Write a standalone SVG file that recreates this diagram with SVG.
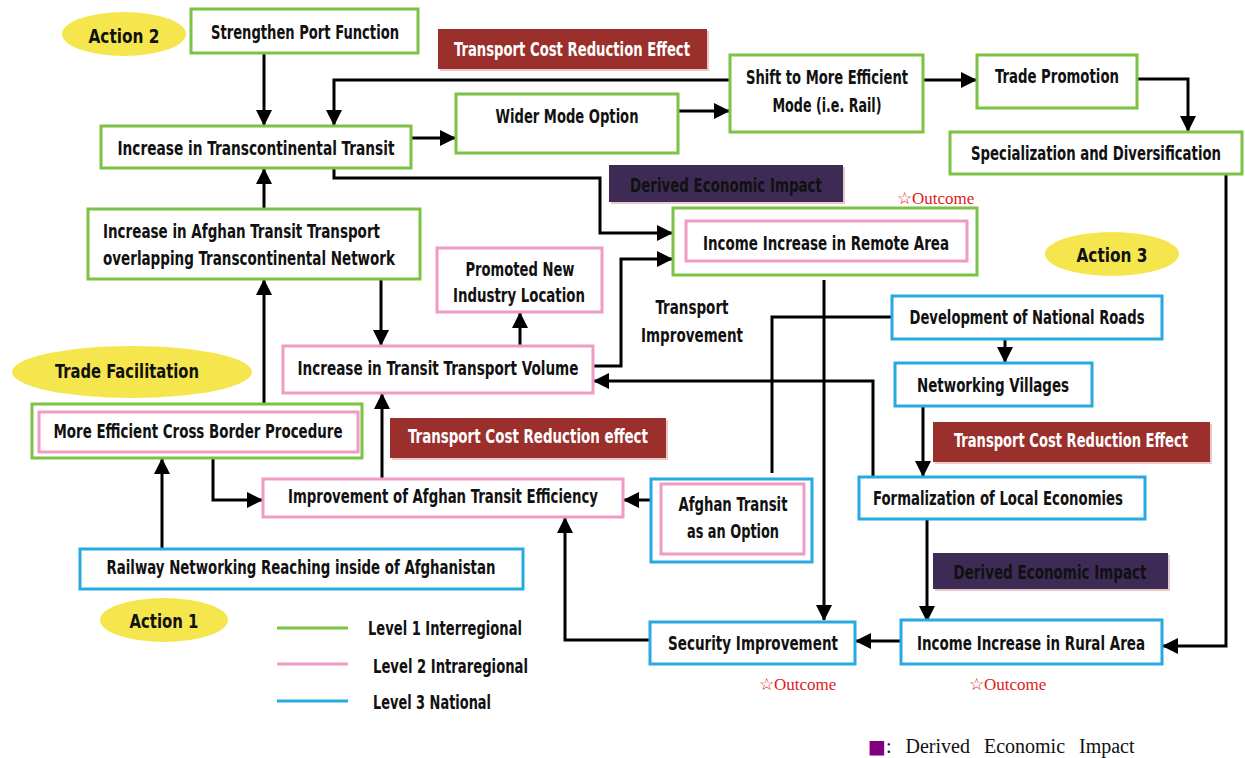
<svg xmlns="http://www.w3.org/2000/svg" width="1245" height="758" viewBox="0 0 1245 758">
<defs>
<style>
.t{font-family:"Liberation Sans Narrow","DejaVu Sans Condensed","Liberation Sans",sans-serif;font-weight:bold;font-size:19px;fill:#111;text-anchor:middle}
.tl{text-anchor:start}
.w{fill:#fff}
.g{fill:#fff;stroke:#7cc243;stroke-width:3}
.p{fill:#fff;stroke:#f09bc3;stroke-width:3}
.b{fill:#fff;stroke:#27aae1;stroke-width:3}
.y{fill:#f6e64e}
.red{fill:#9b2f2b}
.pur{fill:#3e2b55}
.sh{fill:#e8c8c8}
.oc{font-family:"Liberation Serif","DejaVu Serif",serif;font-size:17px;fill:#e02020}
.c{fill:none;stroke:#000;stroke-width:3}
.a{marker-end:url(#ah)}
</style>
<marker id="ah" markerUnits="userSpaceOnUse" markerWidth="16" markerHeight="16" refX="15" refY="8" orient="auto" viewBox="0 0 16 16">
<path d="M0,0 L16,8 L0,16 z" fill="#000"/>
</marker>
</defs>
<rect width="1245" height="758" fill="#fff"/>

<!-- connectors -->
<g id="connectors">
<path class="c a" d="M264,53 V125"/>
<path class="c a" d="M730,80 H334 V125"/>
<path class="c a" d="M411,138 H455"/>
<path class="c a" d="M678,111 H729"/>
<path class="c a" d="M923,80 H976"/>
<path class="c a" d="M1137,79 H1188 V131"/>
<path class="c a" d="M334,168 V178 H600 V233 H672"/>
<path class="c a" d="M593,366 H621 V259 H672"/>
<path class="c a" d="M264,209 V169"/>
<path class="c a" d="M381,279 V345"/>
<path class="c a" d="M520,346 V313"/>
<path class="c a" d="M264,404 V280"/>
<path class="c a" d="M162,549 V459"/>
<path class="c a" d="M213,458 V500 H262"/>
<path class="c a" d="M382,479 V394"/>
<path class="c a" d="M651,500 H624"/>
<path class="c" d="M772,473 V317 H892"/>
<path class="c a" d="M873,477 V381 H594"/>
<path class="c a" d="M1005,339 V362"/>
<path class="c a" d="M923,406 V476"/>
<path class="c a" d="M927,519 V621"/>
<path class="c a" d="M1226,174 V646 H1163"/>
<path class="c a" d="M901,641 H856"/>
<path class="c a" d="M824,280 V620"/>
<path class="c a" d="M650,640 H565 V518"/>
</g>

<!-- actions -->
<g id="action2"><ellipse class="y" cx="124" cy="34" rx="62" ry="22"/><text class="t" x="124" y="43" font-size="21" textLength="71" lengthAdjust="spacingAndGlyphs">Action 2</text></g>
<g id="action3"><ellipse class="y" cx="1112" cy="254" rx="67" ry="22"/><text class="t" x="1112" y="262" font-size="21" textLength="71" lengthAdjust="spacingAndGlyphs">Action 3</text></g>
<g id="action1"><ellipse class="y" cx="164" cy="620" rx="64" ry="22"/><text class="t" x="164" y="628" font-size="21" textLength="69" lengthAdjust="spacingAndGlyphs">Action 1</text></g>
<g id="tradefac"><ellipse class="y" cx="132" cy="372" rx="120" ry="26"/><text class="t" x="127" y="378" font-size="21" textLength="144" lengthAdjust="spacingAndGlyphs">Trade Facilitation</text></g>

<!-- banners -->
<g id="banner-tcr1"><rect class="sh" x="440" y="31" width="269" height="40"/><rect class="red" x="438" y="29" width="269" height="40"/><text class="t w" x="572" y="56" textLength="236" lengthAdjust="spacingAndGlyphs">Transport Cost Reduction Effect</text></g>
<g id="banner-dei1"><rect class="sh" x="611" y="167" width="234" height="37"/><rect class="pur" x="609" y="165" width="234" height="37"/><text class="t" x="726" y="192" textLength="192" lengthAdjust="spacingAndGlyphs">Derived Economic Impact</text></g>
<g id="banner-tcr2"><rect class="sh" x="392" y="420" width="276" height="40"/><rect class="red" x="390" y="418" width="276" height="40"/><text class="t w" x="528" y="443" textLength="240" lengthAdjust="spacingAndGlyphs">Transport Cost Reduction effect</text></g>
<g id="banner-tcr3"><rect class="sh" x="935" y="424" width="277" height="40"/><rect class="red" x="933" y="422" width="277" height="40"/><text class="t w" x="1071" y="447" font-size="17.5" textLength="234" lengthAdjust="spacingAndGlyphs">Transport Cost Reduction Effect</text></g>
<g id="banner-dei2"><rect class="sh" x="935" y="555" width="235" height="36"/><rect class="pur" x="933" y="553" width="235" height="36"/><text class="t" x="1050" y="579" textLength="193" lengthAdjust="spacingAndGlyphs">Derived Economic Impact</text></g>

<!-- nodes -->
<g id="n-port"><rect class="g" x="191" y="9" width="227" height="44"/><text class="t" x="305" y="39" textLength="188" lengthAdjust="spacingAndGlyphs">Strengthen Port Function</text></g>
<g id="n-transcont"><rect class="g" x="101" y="126" width="310" height="42"/><text class="t" x="256" y="155" textLength="277" lengthAdjust="spacingAndGlyphs">Increase in Transcontinental Transit</text></g>
<g id="n-wider"><rect class="g" x="456" y="94" width="222" height="59"/><text class="t" x="567" y="123" textLength="143" lengthAdjust="spacingAndGlyphs">Wider Mode Option</text></g>
<g id="n-shift"><rect class="g" x="730" y="55" width="193" height="77"/><text class="t" x="827" y="84" textLength="162" lengthAdjust="spacingAndGlyphs">Shift to More Efficient</text><text class="t" x="827" y="112" textLength="109" lengthAdjust="spacingAndGlyphs">Mode (i.e. Rail)</text></g>
<g id="n-trade"><rect class="g" x="977" y="55" width="160" height="53"/><text class="t" x="1057" y="83" textLength="124" lengthAdjust="spacingAndGlyphs">Trade Promotion</text></g>
<g id="n-spec"><rect class="g" x="950" y="132" width="292" height="42"/><text class="t" x="1096" y="160" font-size="17.5" textLength="250" lengthAdjust="spacingAndGlyphs">Specialization and Diversification</text></g>
<g id="n-remote"><rect class="g" x="673" y="208" width="304" height="67"/><rect class="p" x="686" y="221" width="281" height="40"/><text class="t" x="826" y="250" textLength="246" lengthAdjust="spacingAndGlyphs">Income Increase in Remote Area</text><text class="oc" x="897" y="204">☆Outcome</text></g>
<g id="n-afghan-overlap"><rect class="g" x="88" y="209" width="332" height="70"/><text class="t tl" x="103" y="238" textLength="277" lengthAdjust="spacingAndGlyphs">Increase in Afghan Transit Transport</text><text class="t tl" x="103" y="265" textLength="292" lengthAdjust="spacingAndGlyphs">overlapping Transcontinental Network</text></g>
<g id="n-promoted"><rect class="p" x="437" y="248" width="165" height="64"/><text class="t" x="520" y="276" textLength="109" lengthAdjust="spacingAndGlyphs">Promoted New</text><text class="t" x="519" y="302" textLength="132" lengthAdjust="spacingAndGlyphs">Industry Location</text></g>
<g id="lbl-transport-improvement"><text class="t" x="692" y="314" textLength="73" lengthAdjust="spacingAndGlyphs">Transport</text><text class="t" x="692" y="342" textLength="102" lengthAdjust="spacingAndGlyphs">Improvement</text></g>
<g id="n-volume"><rect class="p" x="283" y="346" width="310" height="47"/><text class="t" x="438" y="375" textLength="281" lengthAdjust="spacingAndGlyphs">Increase in Transit Transport Volume</text></g>
<g id="n-crossborder"><rect class="g" x="32" y="404" width="330" height="54"/><rect class="p" x="39" y="412" width="319" height="40"/><text class="t" x="198" y="438" textLength="289" lengthAdjust="spacingAndGlyphs">More Efficient Cross Border Procedure</text></g>
<g id="n-improvement"><rect class="p" x="263" y="479" width="360" height="38"/><text class="t" x="443" y="503" textLength="310" lengthAdjust="spacingAndGlyphs">Improvement of Afghan Transit Efficiency</text></g>
<g id="n-option"><rect class="b" x="651" y="479" width="161" height="83"/><rect class="p" x="661" y="484" width="143" height="70"/><text class="t" x="733" y="511" textLength="109" lengthAdjust="spacingAndGlyphs">Afghan Transit</text><text class="t" x="733" y="538" textLength="92" lengthAdjust="spacingAndGlyphs">as an Option</text></g>
<g id="n-roads"><rect class="b" x="892" y="296" width="270" height="43"/><text class="t" x="1027" y="324" textLength="235" lengthAdjust="spacingAndGlyphs">Development of National Roads</text></g>
<g id="n-villages"><rect class="b" x="895" y="363" width="197" height="43"/><text class="t" x="993" y="392" textLength="152" lengthAdjust="spacingAndGlyphs">Networking Villages</text></g>
<g id="n-formal"><rect class="b" x="859" y="477" width="286" height="42"/><text class="t" x="998" y="505" textLength="250" lengthAdjust="spacingAndGlyphs">Formalization of Local Economies</text></g>
<g id="n-rural"><rect class="b" x="901" y="620" width="261" height="44"/><text class="t" x="1031" y="650" textLength="228" lengthAdjust="spacingAndGlyphs">Income Increase in Rural Area</text><text class="oc" x="969" y="690">☆Outcome</text></g>
<g id="n-security"><rect class="b" x="650" y="622" width="205" height="42"/><text class="t" x="753" y="650" textLength="170" lengthAdjust="spacingAndGlyphs">Security Improvement</text><text class="oc" x="759" y="690">☆Outcome</text></g>
<g id="n-railway"><rect class="b" x="80" y="549" width="443" height="40"/><text class="t" x="301" y="574" textLength="389" lengthAdjust="spacingAndGlyphs">Railway Networking Reaching inside of Afghanistan</text></g>

<!-- legend -->
<g id="legend">
<line x1="277" y1="628" x2="348" y2="628" stroke="#7cc243" stroke-width="3"/>
<line x1="277" y1="664" x2="348" y2="664" stroke="#f09bc3" stroke-width="3"/>
<line x1="277" y1="701" x2="348" y2="701" stroke="#27aae1" stroke-width="3"/>
<text class="t tl" x="368" y="635" textLength="154" lengthAdjust="spacingAndGlyphs">Level 1 Interregional</text>
<text class="t tl" x="373" y="673" textLength="155" lengthAdjust="spacingAndGlyphs">Level 2 Intraregional</text>
<text class="t tl" x="373" y="709" textLength="118" lengthAdjust="spacingAndGlyphs">Level 3 National</text>
</g>
<g id="legend-dei">
<text x="868" y="753" font-family="'Liberation Serif','DejaVu Serif',serif" font-size="20" fill="#111"><tspan fill="#800080" font-family="'DejaVu Sans',sans-serif" font-size="19">■</tspan><tspan word-spacing="9">: Derived Economic Impact</tspan></text>
</g>
</svg>
